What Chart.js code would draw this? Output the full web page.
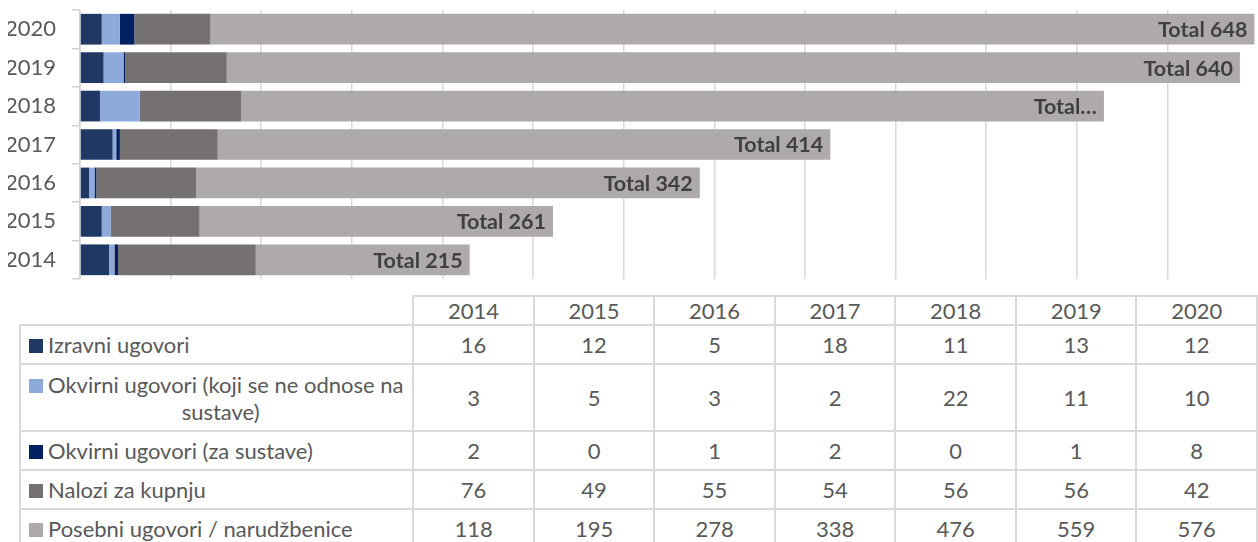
<!DOCTYPE html>
<html><head><meta charset="utf-8">
<script src="https://cdn.jsdelivr.net/npm/chart.js@4.4.1/dist/chart.umd.min.js"></script>
<style>
html,body{margin:0;padding:0;background:#fff;width:1258px;height:542px;overflow:hidden;font-family:Lato,"Open Sans",sans-serif;}
#wrap{position:absolute;left:0;top:0;width:1258px;height:290px;}
#tbl{position:absolute;left:19px;top:295px;border-collapse:collapse;table-layout:fixed;color:#595959;font-size:22px;font-family:Lato,"Open Sans",sans-serif;}
#tbl td{border:2px solid #d9d9d9;text-align:center;padding:0;line-height:27px;white-space:nowrap;}
#tbl td.name{text-align:left;padding-left:8px;white-space:normal;}
#tbl td.blank{border-top:none;border-left:none;border-bottom:2px solid #d9d9d9;}
.sw{display:inline-block;width:14px;height:14px;margin-right:5px;vertical-align:0px;}
.center{text-align:center;}
</style>
</head><body>
<div id="wrap"><canvas id="c" width="1258" height="290"></canvas></div>
<table id="tbl"></table>
<script>
// ---- data ----
const years = ['2014','2015','2016','2017','2018','2019','2020'];
const seriesNames = [
  'Izravni ugovori',
  'Okvirni ugovori (koji se ne odnose na sustave)',
  'Okvirni ugovori (za sustave)',
  'Nalozi za kupnju',
  'Posebni ugovori / narudžbenice'
];
const izravni        = [16, 12, 5, 18, 11, 13, 12];
const okvirniNe      = [3, 5, 3, 2, 22, 11, 10];
const okvirniSustave = [2, 0, 1, 2, 0, 1, 8];
const nalozi         = [76, 49, 55, 54, 56, 56, 42];
const posebni        = [118, 195, 278, 338, 476, 559, 576];
const totalLabels    = ['Total 215','Total 261','Total 342','Total 414','Total…','Total 640','Total 648'];
const xMax = 650, xStep = 50;

// ---- styles ----
const colors = ['#1f3864', '#8eaadb', '#002060', '#767171', '#aeaaaa'];
const FONT = 'Lato, "Open Sans", sans-serif';
const series = [izravni, okvirniNe, okvirniSustave, nalozi, posebni];

const totalsPlugin = {
  id: 'totals',
  afterDatasetsDraw(chart) {
    const ctx = chart.ctx;
    const last = chart.getDatasetMeta(chart.data.datasets.length - 1);
    ctx.save();
    ctx.font = 'bold 21.5px ' + FONT;
    ctx.fillStyle = '#404040';
    ctx.textAlign = 'right';
    ctx.textBaseline = 'middle';
    last.data.forEach((bar, i) => {
      ctx.fillText(totalLabels[i], bar.x - 7, bar.y + 1);
    });
    ctx.restore();
  }
};

new Chart(document.getElementById('c'), {
  type: 'bar',
  data: {
    labels: years,
    datasets: series.map((d, i) => ({
      label: seriesNames[i],
      data: d,
      backgroundColor: colors[i],
      borderWidth: 0,
      barPercentage: 0.8,
      categoryPercentage: 1
    }))
  },
  options: {
    indexAxis: 'y',
    responsive: false,
    animation: false,
    layout: { padding: { left: 8, top: 10, right: 0, bottom: 11 } },
    plugins: { legend: { display: false }, tooltip: { enabled: false } },
    scales: {
      x: {
        stacked: true, min: 0, max: xMax,
        afterFit: s => { s.height = 0; s.paddingLeft = 0; s.paddingRight = 0; s.paddingTop = 0; s.paddingBottom = 0; },
        ticks: { display: false, stepSize: xStep },
        border: { display: false },
        grid: {
          drawTicks: false,
          lineWidth: 1.5,
          color: c => (c.tick && c.tick.value === xMax) ? 'rgba(0,0,0,0)' : '#d9d9d9'
        }
      },
      y: {
        stacked: true, reverse: true,
        afterFit: s => { s.width = 72; s.paddingTop = 0; s.paddingBottom = 0; s.paddingLeft = 0; s.paddingRight = 0; },
        border: { color: '#d0d0d0', width: 1.5 },
        grid: { offset: true, drawOnChartArea: false, tickLength: 8, color: '#d0d0d0', lineWidth: 1.5 },
        ticks: { color: '#595959', font: { size: 22, family: FONT }, padding: 16 }
      }
    }
  },
  plugins: [totalsPlugin]
});

// ---- data table ----
const tbl = document.getElementById('tbl');
const colg = document.createElement('colgroup');
[395,121,121,121,121,121,121,121].forEach(w => { const c = document.createElement('col'); c.style.width = w + 'px'; colg.appendChild(c); });
tbl.appendChild(colg);
const head = document.createElement('tr');
head.style.height = '29px';
const blank = document.createElement('td'); blank.className = 'blank'; head.appendChild(blank);
years.forEach(y => { const td = document.createElement('td'); td.textContent = y; head.appendChild(td); });
tbl.appendChild(head);
const rowHeights = [39, 67, 39, 39, 39];
series.forEach((d, i) => {
  const tr = document.createElement('tr');
  tr.style.height = rowHeights[i] + 'px';
  const name = document.createElement('td'); name.className = 'name';
  const sw = '<span class="sw" style="background:' + colors[i] + '"></span>';
  if (i === 1) {
    name.innerHTML = '<div>' + sw + 'Okvirni ugovori (koji se ne odnose na</div><div class="center">sustave)</div>';
  } else {
    name.innerHTML = sw + seriesNames[i];
  }
  tr.appendChild(name);
  d.forEach(v => { const td = document.createElement('td'); td.textContent = v; tr.appendChild(td); });
  tbl.appendChild(tr);
});
</script>
</body></html>
